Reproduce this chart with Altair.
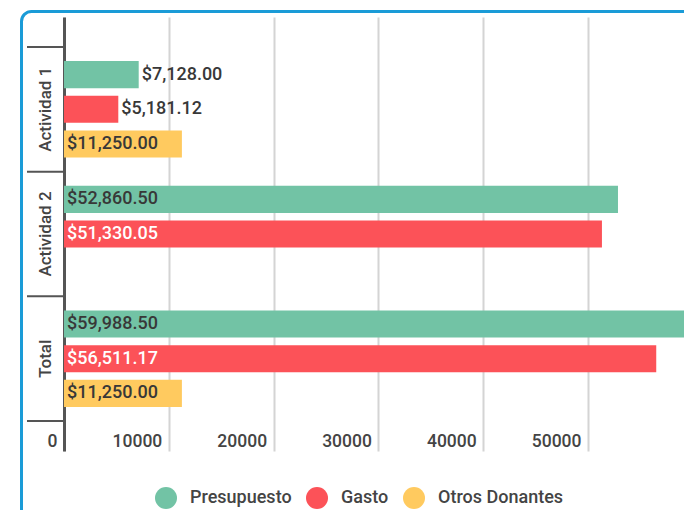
import altair as alt
import pandas as pd

categories = ["Actividad 1", "Actividad 2", "Total"]
series = ["Presupuesto", "Gasto", "Otros Donantes"]
presupuesto = [7128.00, 52860.50, 59988.50]
gasto = [5181.12, 51330.05, 56511.17]
otros = [11250.00, None, 11250.00]
colors = ["#72c3a5", "#fc5258", "#ffca5f"]
x_ticks = [0, 10000, 20000, 30000, 40000, 50000]

rows = []
for i, c in enumerate(categories):
    for s, vals in zip(series, [presupuesto, gasto, otros]):
        if vals[i] is not None:
            rows.append({"cat": c, "series": s, "value": vals[i]})
df = pd.DataFrame(rows)

FONT = "Roboto"
TXT = "#444444"
W = 500

x_enc = alt.X(
    "value:Q",
    scale=alt.Scale(domain=[0, 59160], nice=False, zero=True),
    axis=alt.Axis(
        values=x_ticks, title=None, grid=True, gridColor="#d4d4d4", gridWidth=2,
        ticks=False, domain=False, labelAlign="right", labelOffset=-7,
        labelBaseline="middle", labelPadding=-10, labelFont=FONT,
        labelFontSize=17.5, labelFontWeight=W, labelColor=TXT,
        labelFlush=False, labelOverlap=False, format="d",
    ),
)
y_enc = alt.Y(
    "cat:N", sort=categories,
    scale=alt.Scale(domain=categories, paddingInner=0, paddingOuter=0.24),
    axis=alt.Axis(
        title=None, ticks=False, domain=True, domainColor="#555555", domainWidth=3,
        labelAngle=-90, labelAlign="center", labelBaseline="middle",
        labelPadding=19, labelFont=FONT, labelFontSize=17, labelFontWeight=W,
        labelColor=TXT, grid=False,
    ),
)
yoff = alt.YOffset("series:N", sort=series,
                   scale=alt.Scale(domain=series, paddingInner=0.217, paddingOuter=0.406))

base = alt.Chart(df)

bars = base.mark_bar().encode(
    x=x_enc, y=y_enc, yOffset=yoff,
    color=alt.Color(
        "series:N", sort=series,
        scale=alt.Scale(domain=series, range=colors),
        legend=alt.Legend(
            title=None, orient="none", legendX=91, legendY=470, direction="horizontal",
            symbolType="circle", symbolSize=484, symbolStrokeWidth=0,
            labelFont=FONT, labelFontSize=18, labelFontWeight=W, labelColor=TXT,
            labelOffset=13, columnPadding=14,
        ),
    ),
)

labels = base.transform_calculate(
    label="'$' + format(datum.value, ',.2f')",
    inside="datum.value >= 10000",
    lx="datum.value >= 10000 ? 0 : datum.value",
).mark_text(align="left", baseline="middle", dx=3, font=FONT, fontSize=18, fontWeight=W).encode(
    x=alt.X("lx:Q"),
    y=alt.Y("cat:N", sort=categories),
    yOffset=alt.YOffset("series:N", sort=series),
    text="label:N",
    color=alt.condition("datum.inside && datum.series == 'Gasto'", alt.value("white"), alt.value("#383838")),
)

sep_top = base.transform_filter("datum.series == 'Presupuesto'").mark_rule(
    color="#555555", strokeWidth=2
).encode(
    y=alt.Y("cat:N", sort=categories, bandPosition=0),
    x=alt.value(-37), x2=alt.value(0),
)
sep_bottom = base.transform_filter("datum.series == 'Presupuesto' && datum.cat == 'Total'").mark_rule(
    color="#555555", strokeWidth=2
).encode(
    y=alt.Y("cat:N", sort=categories, bandPosition=1),
    x=alt.value(-37), x2=alt.value(0),
)

border = alt.Chart(alt.Data(values=[{}])).mark_rect(
    filled=False, stroke="#1a9bd7", strokeWidth=3, cornerRadius=10
).encode(
    x=alt.value(-42.5), y=alt.value(-5.5), x2=alt.value(900), y2=alt.value(800),
)

chart = alt.layer(border, bars, labels, sep_top, sep_bottom).properties(
    width=620, height=434,
    autosize=alt.AutoSizeParams(type="none"),
    padding={"left": 56, "top": 9, "right": 0, "bottom": 59},
    background="white",
).configure_view(stroke=None)

chart.save("out.html", embed_options={"renderer": "svg", "actions": False})
